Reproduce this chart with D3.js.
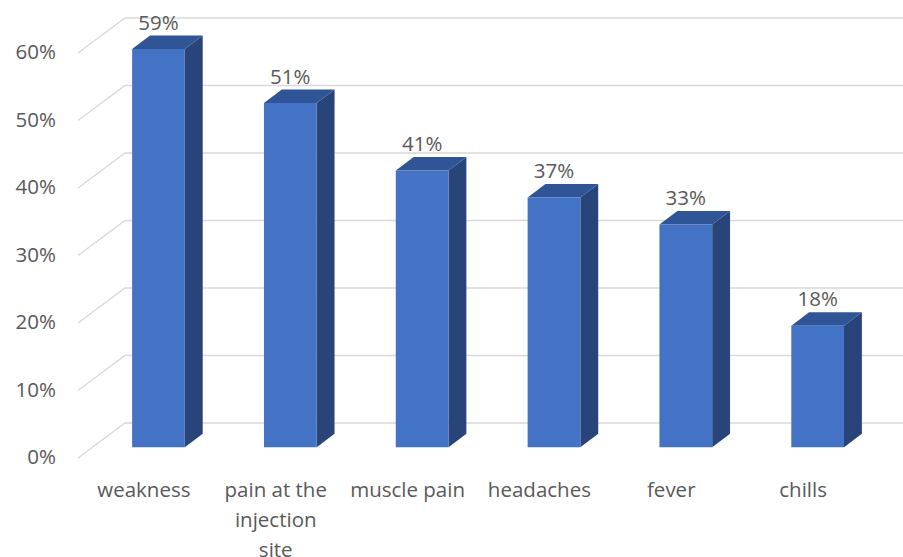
<!DOCTYPE html>
<html><head><meta charset="utf-8">
<script src="https://cdn.jsdelivr.net/npm/d3@7"></script>
<style>body{margin:0;background:#fff}svg{display:block}text{font-family:"Open Sans",sans-serif;fill:#595959}</style>
</head><body><svg id="c" width="903" height="557"></svg>
<script>
const categories = ["weakness", "pain at the injection site", "muscle pain", "headaches", "fever", "chills"];
const labelLines = [["weakness"], ["pain at the", "injection", "site"], ["muscle pain"], ["headaches"], ["fever"], ["chills"]];
const values = [59, 51, 41, 37, 33, 18];
const tickValues = [0, 10, 20, 30, 40, 50, 60];

const svg = d3.select("#c");
const W = 903;
const frontBase = 458;           // y of 0% at the front plane
const depth = {dx: 47, dy: -35};   // full depth offset
const zFront = 0.31, zBack = 0.69;
const fs = 20.5;

const x = d3.scaleBand().domain(categories).range([78, 869]).padding(0);
const h = d3.scaleLinear().domain([0, 60]).range([0, 405]);

const P = (px, val, z) => [px + z * depth.dx, frontBase - h(val) + z * depth.dy];

// gridlines
const grid = svg.append("g");
tickValues.forEach(t => {
  const a = P(x.range()[0], t, 0), b = P(x.range()[0], t, 1);
  grid.append("path")
    .attr("d", `M${a[0]},${a[1]}L${b[0]},${b[1]}L${W},${b[1]}`)
    .attr("fill", "none").attr("stroke", "#d9d9d9").attr("stroke-width", 1.3);
});

// y labels
svg.append("g").selectAll("text").data(tickValues).join("text")
  .attr("x", 56).attr("y", d => P(0, d, 0)[1] + 6)
  .attr("text-anchor", "end").attr("font-size", fs)
  .text(d => d + "%");

// bars
const bw = x.bandwidth() * 0.4;
const bars = svg.append("g");
categories.forEach((c, i) => {
  const v = values[i];
  const cx = x(c) + x.bandwidth() / 2;
  const l = cx - bw / 2, r = cx + bw / 2;
  const fTL = P(l, v, zFront), fTR = P(r, v, zFront), fBR = P(r, 0, zFront), fBL = P(l, 0, zFront);
  const bTL = P(l, v, zBack), bTR = P(r, v, zBack), bBR = P(r, 0, zBack);
  const poly = pts => "M" + pts.map(p => p.join(",")).join("L") + "Z";
  bars.append("path").attr("d", poly([fTR, bTR, bBR, fBR])).attr("fill", "#284478");
  bars.append("path").attr("d", poly([fTL, bTL, bTR, fTR])).attr("fill", "#2F5597");
  bars.append("path").attr("d", poly([fTL, fTR, fBR, fBL])).attr("fill", "#4472C4");
  // data label
  svg.append("text").attr("x", cx + zFront * depth.dx).attr("y", bTL[1] - 6)
    .attr("text-anchor", "middle").attr("font-size", fs).text(v + "%");
});

// category labels
const cl = svg.append("g");
categories.forEach((c, i) => {
  const cx = x(c) + x.bandwidth() / 2;
  const t = cl.append("text").attr("text-anchor", "middle").attr("font-size", fs);
  labelLines[i].forEach((ln, j) => {
    t.append("tspan").attr("x", cx).attr("y", 497 + j * 30).text(ln);
  });
});
</script></body></html>
